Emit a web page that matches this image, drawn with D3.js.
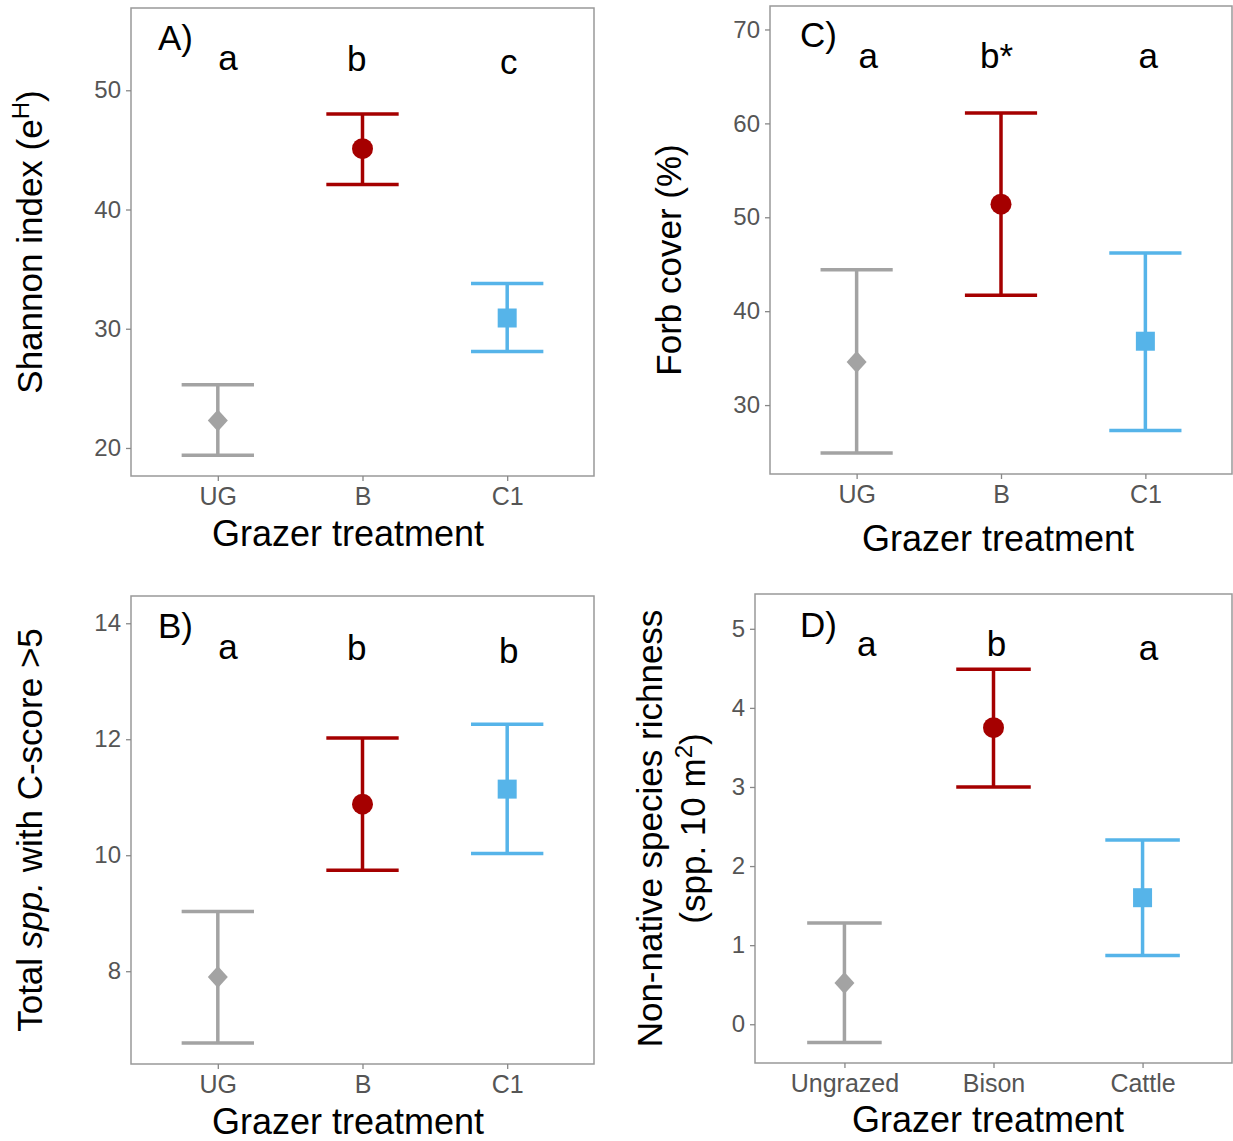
<!DOCTYPE html>
<html>
<head>
<meta charset="utf-8">
<script src="https://cdn.jsdelivr.net/npm/d3@7"></script>
<style>
  body { margin: 0; background: #fff; }
  text { font-family: 'Liberation Sans', Arial, sans-serif; }
</style>
</head>
<body>
<script>
// categories
const groupsShort = ['UG', 'B', 'C1'];
const groupsLong = ['Ungrazed', 'Bison', 'Cattle'];

// A) Shannon index
const shannonMean = [22.3, 45.1, 30.9];
const shannonLo = [19.4, 42.1, 28.1];
const shannonHi = [25.3, 48.0, 33.8];
const shannonTicks = [20, 30, 40, 50];
const shannonLetters = ['a', 'b', 'c'];

// C) Forb cover
const forbMean = [34.6, 51.4, 36.8];
const forbLo = [24.9, 41.7, 27.3];
const forbHi = [44.4, 61.1, 46.2];
const forbTicks = [30, 40, 50, 60, 70];
const forbLetters = ['a', 'b*', 'a'];

// B) spp. with C-score > 5
const cscoreMean = [7.9, 10.88, 11.14];
const cscoreLo = [6.76, 9.74, 10.03];
const cscoreHi = [9.03, 12.02, 12.26];
const cscoreTicks = [8, 10, 12, 14];
const cscoreLetters = ['a', 'b', 'b'];

// D) Non-native richness
const nonNativeMean = [0.52, 3.75, 1.6];
const nonNativeLo = [-0.23, 3.0, 0.87];
const nonNativeHi = [1.28, 4.49, 2.33];
const nonNativeTicks = [0, 1, 2, 3, 4, 5];
const nonNativeLetters = ['a', 'b', 'a'];

const colors = ['#a3a3a3', '#a50000', '#56b4e9'];
const shapes = ['diamond', 'circle', 'square'];

const svg = d3.select('body').append('svg')
    .attr('width', 1233)
    .attr('height', 1141)
    .style('background', '#fff');

const panels = [
    {
        box: { left: 131, right: 594, top: 8, bottom: 476 },
        groups: groupsShort, mean: shannonMean, lo: shannonLo, hi: shannonHi,
        domain: [17.65, 56.9], ticks: shannonTicks,
        letters: shannonLetters, letterDx: [0.07, -0.04, 0.01], letterY: [51.7, 51.6, 51.35],
        tag: 'A)', tagPos: [27, 42],
        ytitle: 'A', ytitleX: 30,
        xtitle: { x: 348, y: 546 }
    },
    {
        box: { left: 770, right: 1232, top: 6, bottom: 474 },
        groups: groupsShort, mean: forbMean, lo: forbLo, hi: forbHi,
        domain: [22.66, 72.5], ticks: forbTicks,
        letters: forbLetters, letterDx: [0.08, -0.03, 0.02], letterY: [65.85, 65.85, 65.85],
        tag: 'C)', tagPos: [30, 41],
        ytitle: 'C', ytitleX: 669,
        xtitle: { x: 998, y: 551 }
    },
    {
        box: { left: 131, right: 594, top: 596, bottom: 1064 },
        groups: groupsShort, mean: cscoreMean, lo: cscoreLo, hi: cscoreHi,
        domain: [6.4, 14.47], ticks: cscoreTicks,
        letters: cscoreLetters, letterDx: [0.07, -0.04, 0.01], letterY: [13.38, 13.36, 13.31],
        tag: 'B)', tagPos: [27, 42],
        ytitle: 'B', ytitleX: 30,
        xtitle: { x: 348, y: 1134 }
    },
    {
        box: { left: 755, right: 1232, top: 594, bottom: 1063 },
        groups: groupsLong, mean: nonNativeMean, lo: nonNativeLo, hi: nonNativeHi,
        domain: [-0.49, 5.44], ticks: nonNativeTicks,
        letters: nonNativeLetters, letterDx: [0.15, 0.02, 0.04], letterY: [4.65, 4.66, 4.61],
        tag: 'D)', tagPos: [45, 43],
        ytitle: 'D', ytitleX: 650,
        xtitle: { x: 988, y: 1132 }
    }
];

function symbolPath(shape) {
    if (shape === 'diamond') return 'M0,-11L10,0L0,11L-10,0Z';
    if (shape === 'square') return 'M-9.5,-9.5H9.5V9.5H-9.5Z';
    return d3.symbol(d3.symbolCircle, Math.PI * 10.5 * 10.5)();
}

function drawPanel(p) {
    const b = p.box;
    // ggplot-like discrete scale: 0.6 expansion each side
    const x = d3.scaleLinear().domain([0.4, 3.6]).range([b.left, b.right]);
    const y = d3.scaleLinear().domain(p.domain).range([b.bottom, b.top]);
    const g = svg.append('g');

    // panel border
    g.append('rect')
        .attr('x', b.left).attr('y', b.top)
        .attr('width', b.right - b.left).attr('height', b.bottom - b.top)
        .attr('fill', 'none')
        .attr('stroke', '#999')
        .attr('stroke-width', 1.5);

    // y axis
    const yAxis = g.append('g')
        .attr('transform', `translate(${b.left},0)`)
        .call(d3.axisLeft(y).tickValues(p.ticks).tickSize(5).tickPadding(5).tickFormat(d3.format('d')));
    yAxis.select('.domain').remove();
    yAxis.selectAll('line').attr('stroke', '#888').attr('stroke-width', 1.3);
    yAxis.selectAll('text')
        .attr('fill', '#555')
        .style('font-size', '24px')
        .style('font-family', "'Liberation Sans', Arial, sans-serif");

    // x axis
    const xAxis = g.append('g')
        .attr('transform', `translate(0,${b.bottom})`)
        .call(d3.axisBottom(x).tickValues([1, 2, 3]).tickSize(5).tickPadding(5)
            .tickFormat((d) => p.groups[d - 1]));
    xAxis.select('.domain').remove();
    xAxis.selectAll('line').attr('stroke', '#888').attr('stroke-width', 1.3);
    xAxis.selectAll('text')
        .attr('fill', '#555')
        .attr('dy', '0.74em')
        .style('font-size', '25px')
        .style('font-family', "'Liberation Sans', Arial, sans-serif");

    const rows = p.groups.map((name, i) => ({
        i: i, mean: p.mean[i], lo: p.lo[i], hi: p.hi[i],
        color: colors[i], shape: shapes[i]
    }));

    // error bars
    const bars = g.append('g').selectAll('g.bar')
        .data(rows)
        .enter()
        .append('g')
            .attr('class', 'bar')
            .attr('stroke', (d) => d.color)
            .attr('stroke-width', 3.5);
    bars.append('line')
        .attr('x1', (d) => x(d.i + 1)).attr('x2', (d) => x(d.i + 1))
        .attr('y1', (d) => y(d.lo)).attr('y2', (d) => y(d.hi));
    bars.append('line')
        .attr('x1', (d) => x(d.i + 1 - 0.25)).attr('x2', (d) => x(d.i + 1 + 0.25))
        .attr('y1', (d) => y(d.hi)).attr('y2', (d) => y(d.hi));
    bars.append('line')
        .attr('x1', (d) => x(d.i + 1 - 0.25)).attr('x2', (d) => x(d.i + 1 + 0.25))
        .attr('y1', (d) => y(d.lo)).attr('y2', (d) => y(d.lo));

    // points
    g.append('g').selectAll('path.pt')
        .data(rows)
        .enter()
        .append('path')
            .attr('class', 'pt')
            .attr('d', (d) => symbolPath(d.shape))
            .attr('transform', (d) => `translate(${x(d.i + 1)},${y(d.mean)})`)
            .attr('fill', (d) => d.color);

    // significance letters
    g.append('g').selectAll('text.letter')
        .data(rows)
        .enter()
        .append('text')
            .attr('class', 'letter')
            .attr('x', (d) => x(d.i + 1 + p.letterDx[d.i]))
            .attr('y', (d) => y(p.letterY[d.i]))
            .attr('text-anchor', 'middle')
            .style('font-size', '35px')
            .attr('fill', '#000')
            .text((d) => p.letters[d.i]);

    // panel tag
    g.append('text')
        .attr('x', b.left + p.tagPos[0])
        .attr('y', b.top + p.tagPos[1])
        .style('font-size', '35px')
        .attr('fill', '#000')
        .text(p.tag);

    // x title
    g.append('text')
        .attr('x', p.xtitle.x)
        .attr('y', p.xtitle.y)
        .attr('text-anchor', 'middle')
        .style('font-size', '36px')
        .attr('fill', '#000')
        .text('Grazer treatment');

    // y title
    const cy = p.ytitle === 'C' ? 260 : (b.top + b.bottom) / 2;
    if (p.ytitle === 'D') {
        const t1 = g.append('text')
            .attr('transform', `translate(${p.ytitleX},${cy}) rotate(-90)`)
            .attr('text-anchor', 'middle')
            .attr('dy', '0.35em')
            .style('font-size', '35px')
            .text('Non-native species richness');
        const t2 = g.append('text')
            .attr('transform', `translate(${p.ytitleX + 43},${cy}) rotate(-90)`)
            .attr('text-anchor', 'middle')
            .attr('dy', '0.35em')
            .style('font-size', '35px');
        t2.append('tspan').text('(spp. 10 m');
        t2.append('tspan').attr('baseline-shift', 'super').style('font-size', '24px').text('2');
        t2.append('tspan').text(')');
    } else {
        const t = g.append('text')
            .attr('transform', `translate(${p.ytitleX},${cy}) rotate(-90)`)
            .attr('text-anchor', 'middle')
            .attr('dy', '0.35em')
            .style('font-size', '35px');
        if (p.ytitle === 'A') {
            t.append('tspan').text('Shannon index (e');
            t.append('tspan').attr('baseline-shift', 'super').style('font-size', '24px').text('H');
            t.append('tspan').text(')');
        } else if (p.ytitle === 'C') {
            t.text('Forb cover (%)');
        } else {
            t.append('tspan').text('Total ');
            t.append('tspan').style('font-style', 'italic').text('spp.');
            t.append('tspan').text(' with C-score >5');
        }
    }
}

panels.forEach(drawPanel);
</script>
</body>
</html>
